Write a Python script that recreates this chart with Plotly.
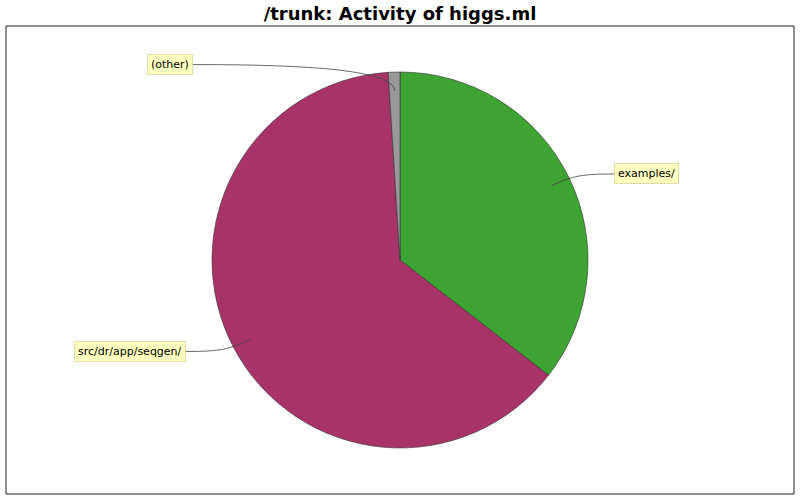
import math

import plotly.graph_objects as go

# slice data, clockwise from 12 o'clock
labels = ["examples/", "src/dr/app/seqgen/", "(other)"]
values = [35.5, 63.5, 1.0]
colors = ["#3da333", "#a83467", "#999999"]

W, H = 800, 500
ML, MR, MT, MB = 6, 6, 26, 6
PW, PH = W - ML - MR, H - MT - MB
RADIUS = 188  # pixels

# pie centred in the frame
cx, cy = ML + PW / 2, MT + PH / 2
dom_y = [0.5 - RADIUS / PH, 0.5 + RADIUS / PH]


def px2paper(x, y):
    return (x - ML) / PW, (H - MB - y) / PH


fig = go.Figure()
fig.add_trace(go.Pie(
    labels=labels, values=values, sort=False, direction="clockwise", rotation=0,
    marker=dict(colors=colors, line=dict(color="#333333", width=0.6)),
    textinfo="none", hoverinfo="label+percent", showlegend=False,
    domain=dict(x=[0, 1], y=dom_y),
))

# callout labels with curved leader lines
total = sum(values)
start = 0.0
shapes = [dict(type="rect", xref="paper", yref="paper", x0=0, y0=0, x1=1, y1=1,
               line=dict(color="#222222", width=1))]
annotations = []
for lab, val in zip(labels, values):
    mid = (start + val / 2) / total * 2 * math.pi
    start += val
    s, c = math.sin(mid), math.cos(mid)
    x0, y0 = cx + 0.9 * RADIUS * s, cy - 0.9 * RADIUS * c
    side = 1 if s >= 0 else -1
    lx = cx + side * (214 if abs(c) < 0.9 else 207)
    ly = cy - 1.04 * RADIUS * c
    c1 = (cx + 1.02 * RADIUS * s, cy - 1.02 * RADIUS * c)
    c2 = (lx - side * 0.5 * abs(lx - x0), ly)
    p = [px2paper(*pt) for pt in [(x0, y0), c1, c2, (lx, ly)]]
    path = "M {} {} C {} {}, {} {}, {} {}".format(*[v for pt in p for v in pt])
    shapes.append(dict(type="path", xref="paper", yref="paper", path=path,
                       line=dict(color="#444444", width=0.8)))
    ax, ay = px2paper(lx, ly)
    annotations.append(dict(
        x=ax, y=ay, xref="paper", yref="paper", text=lab, showarrow=False,
        xanchor="left" if side > 0 else "right", yanchor="middle",
        font=dict(family="DejaVu Sans", size=11, color="#000000"),
        bgcolor="#ffffc0", bordercolor="#ddddaa", borderwidth=1, borderpad=3,
    ))

fig.update_layout(
    width=W, height=H,
    margin=dict(l=ML, r=MR, t=MT, b=MB),
    paper_bgcolor="white", plot_bgcolor="white",
    title=dict(text="<b>/trunk: Activity of higgs.ml</b>", x=0.5, xanchor="center",
               y=1 - 14 / H, yanchor="middle",
               font=dict(family="DejaVu Sans", size=18, color="#000000")),
    shapes=shapes, annotations=annotations,
)

# drop the default page margin so the figure sits at the window's corner
fig.write_html("out.html", config={"displayModeBar": False},
               post_script="document.body.style.margin='0';")
